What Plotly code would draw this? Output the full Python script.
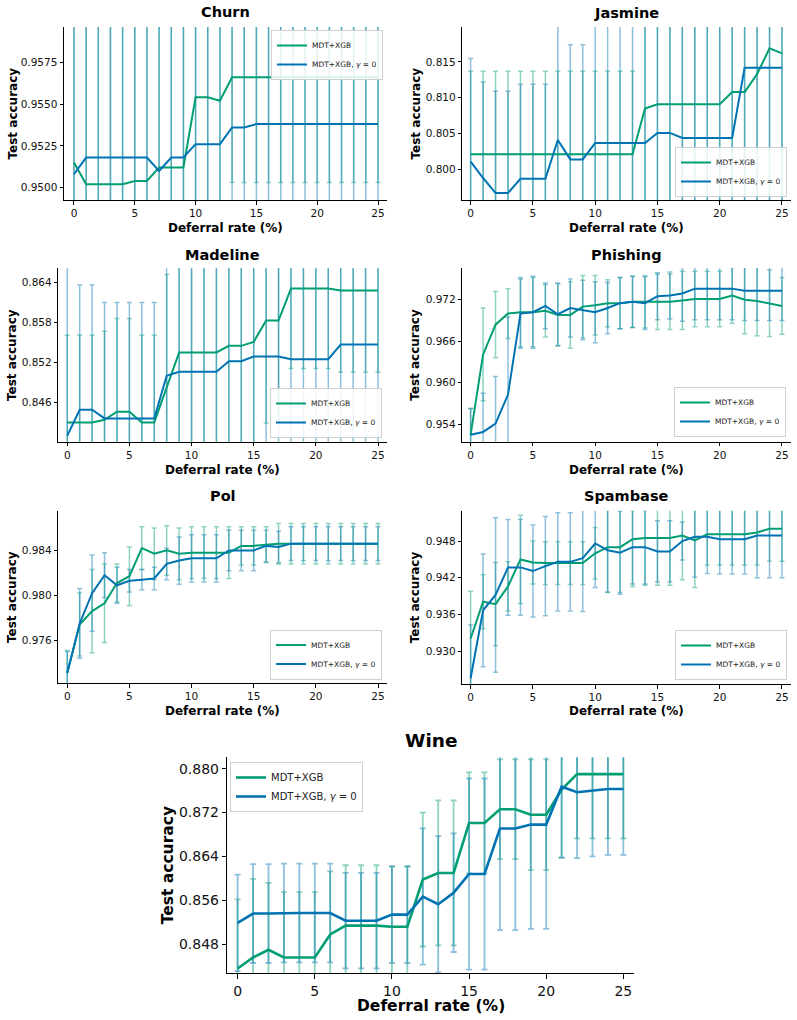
import plotly.graph_objects as go

# ---------------- data ----------------
deferral_rate = list(range(26))
x_ticks = [0, 5, 10, 15, 20, 25]
series_names = ["MDT+XGB", "MDT+XGB, <i>γ</i> = 0"]

churn_mdt = [0.9515, 0.9502, 0.9502, 0.9502, 0.9502, 0.9504, 0.9504, 0.9512, 0.9512, 0.9512,
             0.9554, 0.9554, 0.9552] + [0.9566] * 13
churn_mdt_err = [0.0095] * 10 + [0.0075] * 3 + [0.0063] * 13
churn_g0 = [0.9508] + [0.9518] * 6 + [0.9510, 0.9518, 0.9518, 0.9526, 0.9526, 0.9526,
                                     0.9536, 0.9536] + [0.9538] * 11
churn_g0_err = [0.0095] * 13 + [0.0075] * 13
churn_yticks = [0.9500, 0.9525, 0.9550, 0.9575]
churn_yticklabels = ["0.9500", "0.9525", "0.9550", "0.9575"]

jasmine_mdt = [0.8021] * 14 + [0.8085] + [0.8091] * 6 + [0.8108, 0.8108, 0.8133, 0.8169, 0.8162]
jasmine_mdt_err = [0.0116] * 14 + [0.0135] * 7 + [0.022] * 5
jasmine_g0 = [0.8011, 0.7988, 0.7967, 0.7967, 0.7987, 0.7987, 0.7987, 0.8041, 0.8014, 0.8014] \
    + [0.8037] * 5 + [0.8051, 0.8051] + [0.8044] * 5 + [0.8142] * 4
jasmine_g0_err = [0.0144, 0.0134, 0.0142, 0.0142, 0.0132, 0.0132, 0.0132, 0.017, 0.016, 0.016] \
    + [0.017] * 5 + [0.016, 0.016] + [0.017] * 5 + [0.02] * 4
jasmine_yticks = [0.800, 0.805, 0.810, 0.815]
jasmine_yticklabels = ["0.800", "0.805", "0.810", "0.815"]

madeline_mdt = [0.8430, 0.8430, 0.8430, 0.8434, 0.8446, 0.8446, 0.8430, 0.8430, 0.8484,
                0.8535, 0.8535, 0.8535, 0.8535, 0.8545, 0.8545, 0.8551, 0.8583, 0.8583,
                0.8631, 0.8631, 0.8631, 0.8631, 0.8628, 0.8628, 0.8628, 0.8628]
madeline_mdt_err = [0.0131, 0.0131, 0.0131, 0.0133, 0.0140, 0.0140, 0.0131, 0.0131, 0.0168] \
    + [0.0155] * 7 + [0.0154, 0.0154] + [0.0120] * 4 + [0.01225] * 4
madeline_g0 = [0.8410, 0.8449, 0.8449] + [0.8436] * 5 + [0.8500] + [0.8506] * 4 \
    + [0.8522, 0.8522, 0.8529, 0.8529, 0.8529] + [0.8525] * 4 + [0.8547] * 4
madeline_g0_err = [0.026, 0.01875, 0.01875] + [0.0174] * 5 + [0.0175] * 18
madeline_yticks = [0.846, 0.852, 0.858, 0.864]
madeline_yticklabels = ["0.846", "0.852", "0.858", "0.864"]

phishing_mdt = [0.9525, 0.9641, 0.9684, 0.9700, 0.9702, 0.9702, 0.9704, 0.9698, 0.9698, 0.9710,
                0.9712, 0.9715, 0.9715, 0.9717, 0.9717, 0.9717, 0.9717, 0.9719, 0.9721, 0.9721,
                0.9721, 0.9726, 0.9720, 0.9718, 0.9715, 0.9711]
phishing_mdt_err = [0.0038, 0.0067, 0.0048, 0.0036, 0.0050, 0.0050, 0.0038, 0.0045, 0.0048, 0.0045,
                    0.0043, 0.0034, 0.0037, 0.0037, 0.0038, 0.0040, 0.0040, 0.0042, 0.0040, 0.0040,
                    0.0040, 0.0040, 0.0049, 0.0050, 0.0048, 0.0041]
phishing_g0 = [0.9525, 0.9529, 0.9541, 0.9583, 0.9700, 0.9702, 0.9711, 0.9699, 0.9708, 0.9705,
               0.9702, 0.9708, 0.9715, 0.9717, 0.9715, 0.9725, 0.9726, 0.9729, 0.9736, 0.9736,
               0.9736, 0.9736, 0.9733, 0.9733, 0.9733, 0.9733]
phishing_g0_err = [0.0038, 0.0056, 0.0068, 0.0112, 0.0050, 0.0052, 0.0033, 0.0045, 0.0042, 0.0043,
                   0.0044, 0.0037, 0.0037, 0.0037, 0.0038, 0.0034, 0.0034, 0.0040, 0.0045, 0.0045,
                   0.0045, 0.0045, 0.0043, 0.0043, 0.0043, 0.0043]
phishing_yticks = [0.954, 0.960, 0.966, 0.972]
phishing_yticklabels = ["0.954", "0.960", "0.966", "0.972"]

pol_mdt = [0.9731, 0.9774, 0.9786, 0.9793, 0.9811, 0.9817, 0.9842, 0.9837, 0.9840, 0.9837,
           0.9838, 0.9838, 0.9838, 0.9838, 0.9844, 0.9844, 0.9845, 0.9846] + [0.9846] * 8
pol_mdt_err = [0.0020, 0.0028, 0.0037, 0.0035, 0.0017, 0.0026, 0.0019, 0.0023, 0.0022, 0.0023,
               0.0023, 0.0023, 0.0023, 0.0023, 0.0017, 0.0017, 0.0016, 0.0018] + [0.0018] * 8
pol_g0 = [0.9731, 0.9775, 0.9802, 0.9818, 0.9809, 0.9813, 0.9814, 0.9815, 0.9828, 0.9831,
          0.9833, 0.9833, 0.9833, 0.9840, 0.9840, 0.9840, 0.9844, 0.9843] + [0.9846] * 8
pol_g0_err = [0.0019, 0.0031, 0.0034, 0.0020, 0.0016, 0.0010, 0.0009, 0.0010, 0.0014, 0.0021,
              0.0021, 0.0021, 0.0021, 0.0018, 0.0018, 0.0018, 0.0014, 0.0014] + [0.0015] * 8
pol_yticks = [0.976, 0.980, 0.984]
pol_yticklabels = ["0.976", "0.980", "0.984"]

spambase_mdt = [0.9321, 0.9381, 0.9377, 0.9406, 0.9450, 0.9445, 0.9444, 0.9444, 0.9444, 0.9444,
                0.9460, 0.9470, 0.9470, 0.9483, 0.9485, 0.9485, 0.9485, 0.9489, 0.9481, 0.9491,
                0.9491, 0.9491, 0.9491, 0.9494, 0.9500, 0.9500]
spambase_mdt_err = [0.0077, 0.0044, 0.0068, 0.0040, 0.0072, 0.0035, 0.0035, 0.0035, 0.0035, 0.0035,
                    0.0042, 0.0074, 0.0074, 0.0077, 0.0077, 0.0077, 0.0077, 0.0072, 0.0077, 0.0050,
                    0.0050, 0.0050, 0.0050, 0.0053, 0.0053, 0.0053]
spambase_g0 = [0.9256, 0.9367, 0.9392, 0.9437, 0.9437, 0.9431, 0.9439, 0.9446, 0.9446, 0.9452,
               0.9476, 0.9465, 0.9461, 0.9470, 0.9470, 0.9463, 0.9463, 0.9480, 0.9487, 0.9487,
               0.9483, 0.9483, 0.9483, 0.9489, 0.9489, 0.9489]
spambase_g0_err = [0.0087, 0.0092, 0.0126, 0.0078, 0.0078, 0.0075, 0.0081, 0.0080, 0.0080, 0.0087,
                   0.0072, 0.0068, 0.0068, 0.0060, 0.0060, 0.0050, 0.0050, 0.0031, 0.0066, 0.0060,
                   0.0057, 0.0057, 0.0057, 0.0069, 0.0069, 0.0069]
spambase_yticks = [0.930, 0.936, 0.942, 0.948]
spambase_yticklabels = ["0.930", "0.936", "0.942", "0.948"]

wine_mdt = [0.8436, 0.8456, 0.8470, 0.8456, 0.8456, 0.8456, 0.8498, 0.8514, 0.8514, 0.8514,
            0.8512, 0.8512, 0.8598, 0.8610, 0.8610, 0.8701, 0.8701, 0.8726, 0.8726, 0.8716,
            0.8716, 0.8762, 0.8790, 0.8790, 0.8790, 0.8790]
wine_mdt_err = [0.0126, 0.0143, 0.0122, 0.0119, 0.0119, 0.0119, 0.0115, 0.0110, 0.0110, 0.0110,
                0.0110, 0.0110, 0.0122, 0.0132, 0.0132, 0.0092, 0.0092, 0.0091, 0.0091, 0.0101,
                0.0101, 0.0124, 0.0117, 0.0117, 0.0117, 0.0117]
wine_g0 = [0.8519, 0.8536, 0.8536, 0.8537, 0.8537, 0.8537, 0.8537, 0.8523, 0.8523, 0.8523,
           0.8534, 0.8534, 0.8567, 0.8553, 0.8574, 0.8608, 0.8608, 0.8691, 0.8691, 0.8698,
           0.8698, 0.8767, 0.8757, 0.8760, 0.8763, 0.8763]
wine_g0_err = [0.0088, 0.0090, 0.0090, 0.0090, 0.0090, 0.0090, 0.0090, 0.0087, 0.0087, 0.0087,
               0.0088, 0.0088, 0.0124, 0.0124, 0.0108, 0.0174, 0.0174, 0.0185, 0.0185, 0.0190,
               0.0190, 0.0129, 0.0120, 0.0120, 0.0120, 0.0120]
wine_yticks = [0.848, 0.856, 0.864, 0.872, 0.880]
wine_yticklabels = ["0.848", "0.856", "0.864", "0.872", "0.880"]

# ---------------- style / layout ----------------
W, H = 797, 1020
FONT = "DejaVu Sans"
GREEN = "#029E73"
BLUE = "#0173B2"
GREEN_ERR = "rgba(2,158,115,0.45)"
BLUE_ERR = "rgba(1,115,178,0.45)"


def fx(p):
    return p / W


def fy(p):
    return 1 - p / H


panels = [
    dict(title="Churn", mdt=churn_mdt, mdt_err=churn_mdt_err, g0=churn_g0, g0_err=churn_g0_err,
         yt=churn_yticks, ytl=churn_yticklabels, xpx=(64, 387), ypx=(27, 200),
         xr=[-0.82, 25.74], yr=[0.94926, 0.95961], big=False,
         title_y=12, xt_y=228, yt_x=12,
         leg=dict(x=fx(383), y=fy(30), xanchor="right", yanchor="top")),
    dict(title="Jasmine", mdt=jasmine_mdt, mdt_err=jasmine_mdt_err, g0=jasmine_g0, g0_err=jasmine_g0_err,
         yt=jasmine_yticks, ytl=jasmine_yticklabels, xpx=(462.3, 790.7), ypx=(27, 200),
         xr=[-0.67, 25.7], yr=[0.79573, 0.81988], big=False,
         title_y=13, xt_y=228, yt_x=415,
         leg=dict(x=fx(787), y=fy(197), xanchor="right", yanchor="bottom")),
    dict(title="Madeline", mdt=madeline_mdt, mdt_err=madeline_mdt_err, g0=madeline_g0, g0_err=madeline_g0_err,
         yt=madeline_yticks, ytl=madeline_yticklabels, xpx=(58.3, 386.7), ypx=(268.3, 441.7),
         xr=[-0.72, 25.7], yr=[0.8401, 0.86615], big=False,
         title_y=255, xt_y=470, yt_x=12,
         leg=dict(x=fx(382), y=fy(438), xanchor="right", yanchor="bottom")),
    dict(title="Phishing", mdt=phishing_mdt, mdt_err=phishing_mdt_err, g0=phishing_g0, g0_err=phishing_g0_err,
         yt=phishing_yticks, ytl=phishing_yticklabels, xpx=(462.3, 790.7), ypx=(268, 441.7),
         xr=[-0.67, 25.7], yr=[0.95149, 0.97658], big=False,
         title_y=255, xt_y=470, yt_x=415,
         leg=dict(x=fx(786), y=fy(437), xanchor="right", yanchor="bottom")),
    dict(title="Pol", mdt=pol_mdt, mdt_err=pol_mdt_err, g0=pol_g0, g0_err=pol_g0_err,
         yt=pol_yticks, ytl=pol_yticklabels, xpx=(58.3, 386.7), ypx=(510.7, 683.3),
         xr=[-0.72, 25.7], yr=[0.97218, 0.98753], big=False,
         title_y=496, xt_y=711, yt_x=12,
         leg=dict(x=fx(382), y=fy(679.5), xanchor="right", yanchor="bottom")),
    dict(title="Spambase", mdt=spambase_mdt, mdt_err=spambase_mdt_err, g0=spambase_g0, g0_err=spambase_g0_err,
         yt=spambase_yticks, ytl=spambase_yticklabels, xpx=(462.3, 790.7), ypx=(510.7, 684),
         xr=[-0.67, 25.7], yr=[0.92467, 0.95295], big=False,
         title_y=496, xt_y=711, yt_x=415,
         leg=dict(x=fx(787), y=fy(680), xanchor="right", yanchor="bottom")),
    dict(title="Wine", mdt=wine_mdt, mdt_err=wine_mdt_err, g0=wine_g0, g0_err=wine_g0_err,
         yt=wine_yticks, ytl=wine_yticklabels, xpx=(227.3, 634), ypx=(757.3, 973.3),
         xr=[-0.67, 25.69], yr=[0.84272, 0.88206], big=True,
         title_y=740, xt_y=1006, yt_x=168,
         leg=dict(x=fx(230), y=fy(762), xanchor="left", yanchor="top")),
]

fig = go.Figure()
layout = dict(
    width=W, height=H, margin=dict(l=0, r=0, t=0, b=0),
    paper_bgcolor="white", plot_bgcolor="white",
    font=dict(family=FONT, color="black"),
    annotations=[],
)

for i, p in enumerate(panels, start=1):
    sfx = "" if i == 1 else str(i)
    xa, ya = "x" + sfx, "y" + sfx
    legname = "legend" + sfx
    big = p["big"]
    lw = 2.6 if big else 2.0
    tick_fs = 14 if big else 10.5
    lab_fs = 15.5 if big else 12
    ttl_fs = 18.5 if big else 14.5
    leg_fs = 10 if big else 7.5

    # error bars (drawn first, underneath the mean lines)
    for vals, err, col in ((p["mdt"], p["mdt_err"], GREEN_ERR), (p["g0"], p["g0_err"], BLUE_ERR)):
        fig.add_trace(go.Scatter(
            x=deferral_rate, y=vals, mode="markers", xaxis=xa, yaxis=ya,
            marker=dict(size=2, color="rgba(0,0,0,0)"),
            error_y=dict(type="data", array=err, visible=True, color=col,
                         thickness=1.5 if not big else 1.8, width=2.5 if not big else 3),
            showlegend=False, hoverinfo="skip"))
    # mean lines
    for vals, col, nm in ((p["mdt"], GREEN, series_names[0]), (p["g0"], BLUE, series_names[1])):
        fig.add_trace(go.Scatter(
            x=deferral_rate, y=vals, mode="lines", xaxis=xa, yaxis=ya,
            line=dict(color=col, width=lw), name=nm, legend=legname, showlegend=True))

    axis_common = dict(showline=True, linecolor="black", linewidth=1, mirror=False,
                       ticks="outside", ticklen=3.5 if not big else 4.5, tickwidth=1, tickcolor="black",
                       showgrid=False, zeroline=False,
                       tickfont=dict(family=FONT, size=tick_fs, color="#111"))
    layout["xaxis" + sfx] = dict(axis_common, domain=[fx(p["xpx"][0]), fx(p["xpx"][1])],
                                 range=p["xr"], anchor=ya, tickvals=x_ticks,
                                 ticktext=[str(v) for v in x_ticks])
    layout["yaxis" + sfx] = dict(axis_common, domain=[fy(p["ypx"][1]), fy(p["ypx"][0])],
                                 range=p["yr"], anchor=xa, tickvals=p["yt"], ticktext=p["ytl"])
    layout[legname] = dict(p["leg"], bgcolor="rgba(255,255,255,0.85)", bordercolor="#d0d0d0",
                           borderwidth=1, font=dict(family=FONT, size=leg_fs, color="#222"),
                           itemwidth=30, tracegroupgap=0)

    xc = (p["xpx"][0] + p["xpx"][1]) / 2
    yc = (p["ypx"][0] + p["ypx"][1]) / 2
    layout["annotations"] += [
        dict(text="<b>%s</b>" % p["title"], x=fx(xc), y=fy(p["title_y"]), xref="paper", yref="paper",
             showarrow=False, xanchor="center", yanchor="middle",
             font=dict(family=FONT, size=ttl_fs, color="black")),
        dict(text="<b>Deferral rate (%)</b>", x=fx(xc), y=fy(p["xt_y"]), xref="paper", yref="paper",
             showarrow=False, xanchor="center", yanchor="middle",
             font=dict(family=FONT, size=lab_fs, color="black")),
        dict(text="<b>Test accuracy</b>", x=fx(p["yt_x"]), y=fy(yc), xref="paper", yref="paper",
             showarrow=False, xanchor="center", yanchor="middle", textangle=-90,
             font=dict(family=FONT, size=lab_fs, color="black")),
    ]

fig.update_layout(**layout)
fig.write_html("out.html")
